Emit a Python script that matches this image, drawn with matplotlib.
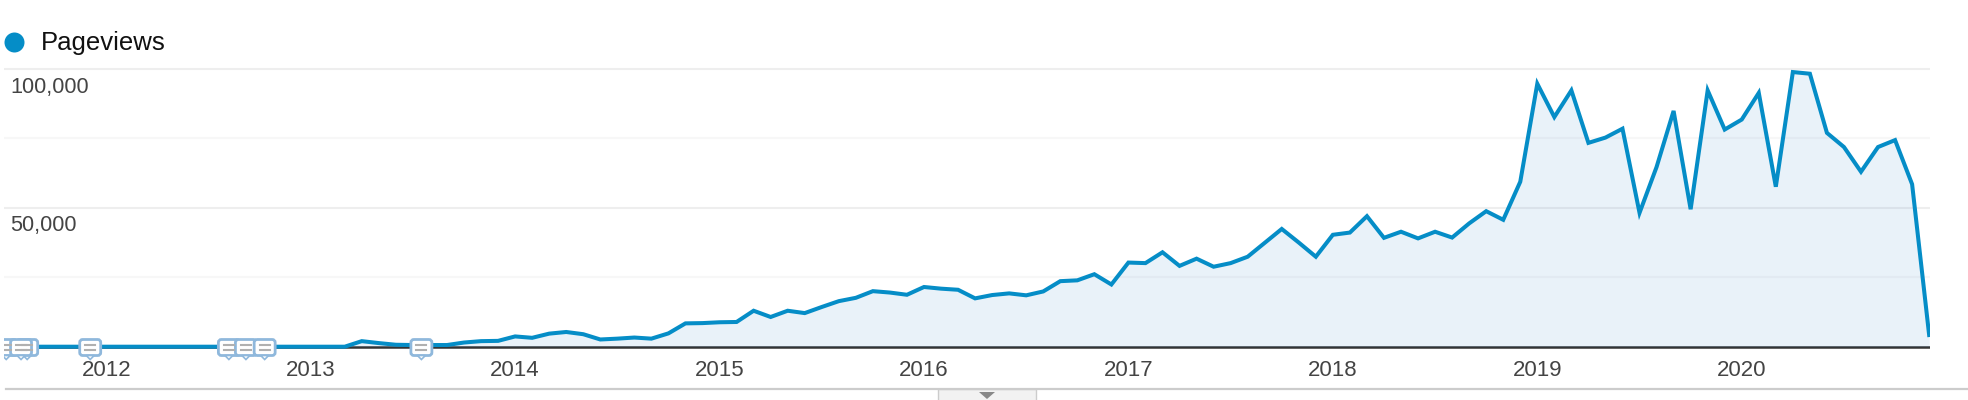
import matplotlib.pyplot as plt
from matplotlib.patches import FancyBboxPatch, Polygon, Rectangle
import numpy as np

plt.rcParams['font.family'] = ['Liberation Sans', 'DejaVu Sans']

# monthly pageviews, Jul 2011 - Dec 2020
pageviews = [
    0, 0, 0, 0, 0, 0,
    0, 0, 0, 0, 0, 0, 0, 0, 0, 0, 0, 0,
    0, 0, 0, 2000, 1300, 700, 600, 600, 600, 1500, 2000, 2100,
    3700, 3200, 4700, 5300, 4500, 2600, 2900, 3300, 2900, 4800, 8400, 8500,
    8800, 8900, 12950, 10700, 12950, 12100, 14300, 16400, 17600, 20000, 19500, 18700,
    21500, 20900, 20500, 17400, 18600, 19200, 18500, 19900, 23600, 23900, 26100, 22400,
    30300, 30100, 34000, 29100, 31700, 28800, 30100, 32400, 37400, 42400, 37500, 32400,
    40300, 41100, 47000, 39200, 41400, 39000, 41400, 39300, 44400, 48800, 45700, 59400,
    94700, 82700, 92300, 73400, 75300, 78500, 48200, 64700, 84900, 49500, 92300, 78200,
    81800, 91400, 57600, 98900, 98300, 77000, 71900, 63000, 71900, 74400, 58500, 4200,
]
year_labels = ['2012', '2013', '2014', '2015', '2016', '2017', '2018', '2019', '2020']
year_ticks = [6, 18, 30, 42, 54, 66, 78, 90, 102]
major_grid = [50000, 100000]
minor_grid = [25000, 75000]
y_labels = ['50,000', '100,000']
# annotation bubbles, in months from the first point
notes = [0.13, 1.36, 1.0, 5.06, 13.2, 14.2, 15.3, 24.5]

blue = '#058dc7'
W, H = 1968, 400
months = np.arange(len(pageviews))

fig = plt.figure(figsize=(W / 100, H / 100), dpi=100)

# plot area in pixels: x 4..1930, y 60..358 with zero at 346.7
top, bottom, zero_y, k_per_px = 60, 358, 346.7, 1000 / 2.777
ax = fig.add_axes([4 / W, 1 - bottom / H, 1926 / W, (bottom - top) / H])
ax.set_xlim(0, 113.05)
ax.set_ylim(-(bottom - zero_y) * k_per_px, (zero_y - top) * k_per_px)
ax.patch.set_visible(False)
for s in ax.spines.values():
    s.set_visible(False)

for v in major_grid:
    ax.axhline(v, color='#eeeeee', lw=1.5, zorder=1)
for v in minor_grid:
    ax.axhline(v, color='#f7f7f7', lw=1.5, zorder=1)
ax.axhline(0, color='#333333', lw=1.8, zorder=2)
ax.fill_between(months, 0, pageviews, color='#2a80cc', alpha=0.1, lw=0, zorder=3)
ax.plot(months, pageviews, color=blue, lw=2.9, solid_joinstyle='miter', zorder=4)

ax.set_yticks([])
ax.set_xticks(year_ticks)
ax.set_xticklabels(year_labels, fontsize=16, color='#444444')
ax.tick_params(axis='x', length=0, pad=1.5)

for v, lab in zip(major_grid, y_labels):
    ax.annotate(lab, xy=(0, v), xytext=(4.5, -13), textcoords='offset points',
                fontsize=15.7, color='#444444', va='center', ha='left', zorder=5)

# everything else is drawn on a full figure overlay in pixel coordinates
ov = fig.add_axes([0, 0, 1, 1])
ov.set_xlim(0, W)
ov.set_ylim(H, 0)
ov.axis('off')

ov.scatter([14], [42], s=(20 * 0.72) ** 2, color=blue, lw=0)
ov.text(41, 43, 'Pageviews', fontsize=18.5, color='#111111', va='center', ha='left')

# bottom rule and the little tab under it
ov.plot([6, W], [389, 389], color='#cccccc', lw=1.6)
ov.add_patch(Rectangle((938, 389), 98, 12, fc='#f2f2f2', ec='#cccccc', lw=1))
ov.add_patch(Polygon([(979, 392), (995, 392), (987, 399)], fc='#888888', ec='none'))


def bubble(cx):
    ov.add_patch(FancyBboxPatch((cx - 10.5, 339.5), 21, 16, boxstyle='round,pad=0,rounding_size=3',
                                fc='white', ec='#8fb8dc', lw=2, zorder=6))
    ov.add_patch(Polygon([(cx - 4, 355.5), (cx + 4, 355.5), (cx, 359.5)], fc='white',
                         ec='#8fb8dc', lw=1.2, zorder=6))
    ov.plot([cx - 5, cx + 5], [345, 345], color='#b0b0b0', lw=1.5, zorder=7)
    ov.plot([cx - 5, cx - 1], [350, 350], color='#b0b0b0', lw=1.5, zorder=7)
    ov.plot([cx + 1, cx + 5], [350, 350], color='#b0b0b0', lw=1.5, zorder=7)


for m in notes:
    bubble(ax.transData.transform((m, 0))[0])
ov.add_patch(Rectangle((0, 330), 4, 35, fc='white', ec='none', zorder=8))

fig.savefig('out.png', dpi=100)
